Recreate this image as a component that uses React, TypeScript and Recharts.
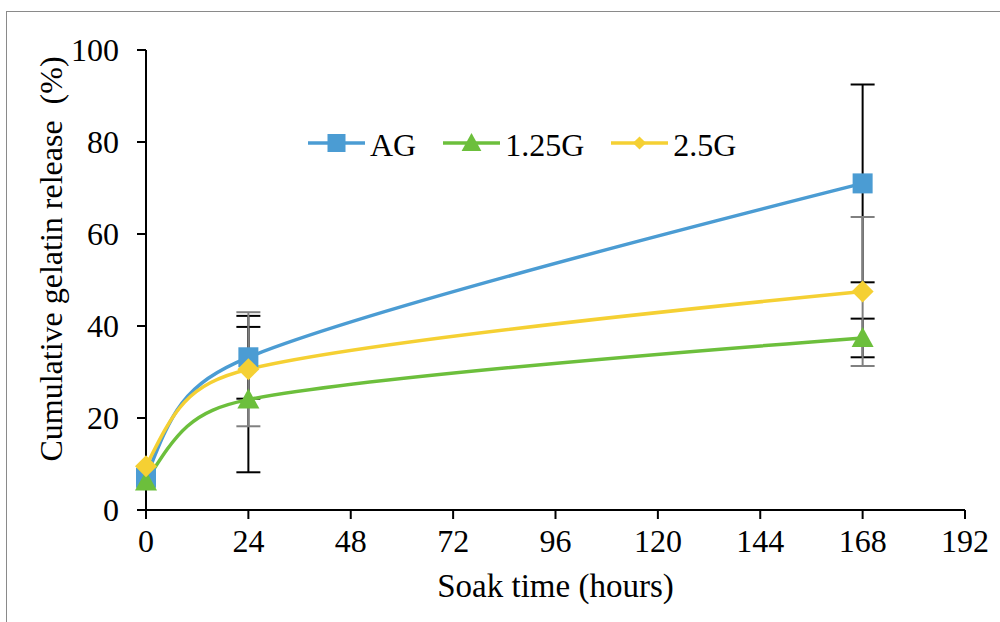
import React from 'react';
import { LineChart, Line, XAxis, YAxis, ErrorBar, Legend, Label } from 'recharts';

// ---- data ----
const hours = [0, 24, 168];
const agValues = [7.0, 33.2, 71.0];
const agErrors: (number | null)[] = [null, 9.0, 21.5];
const g125Values = [6.2, 24.0, 37.4];
const g125Errors: (number | null)[] = [null, 15.8, 4.2];
const g25Values = [9.5, 30.6, 47.5];
const g25Errors: (number | null)[] = [null, 12.4, 16.2];

const xTicks = [0, 24, 48, 72, 96, 120, 144, 168, 192];
const yTicks = [0, 20, 40, 60, 80, 100];

const xTitle = 'Soak time (hours)';
const yTitle = 'Cumulative gelatin release  (%)';

const FONT = '"Liberation Serif", "Times New Roman", serif';

type Shape = 'square' | 'triangle' | 'diamond';

const series = [
  { key: 'AG', name: 'AG', color: '#4b9cd3', shape: 'square' as Shape, errKey: 'AGerr', errColor: '#000000' },
  { key: 'G125', name: '1.25G', color: '#6cbf3c', shape: 'triangle' as Shape, errKey: 'G125err', errColor: '#000000' },
  { key: 'G25', name: '2.5G', color: '#f5d033', shape: 'diamond' as Shape, errKey: 'G25err', errColor: '#808080' },
];

const data = hours.map((h, i) => ({
  t: h,
  AG: agValues[i],
  AGerr: agErrors[i],
  G125: g125Values[i],
  G125err: g125Errors[i],
  G25: g25Values[i],
  G25err: g25Errors[i],
}));

// Spreadsheet-style smoothed line: Catmull-Rom tangents, with control lengths
// limited by the adjacent segment length; end tangents aim at the neighbour control.
function smoothCurve(context: any) {
  let pts: [number, number][] = [];
  const dist = (a: [number, number], b: [number, number]) => Math.hypot(b[0] - a[0], b[1] - a[1]);
  return {
    areaStart() {},
    areaEnd() {},
    lineStart() {
      pts = [];
    },
    lineEnd() {
      const n = pts.length;
      if (!n) return;
      context.moveTo(pts[0][0], pts[0][1]);
      if (n === 1) return;
      if (n === 2) {
        context.lineTo(pts[1][0], pts[1][1]);
        return;
      }
      // interior controls
      const back: ([number, number] | null)[] = new Array(n).fill(null);
      const fwd: ([number, number] | null)[] = new Array(n).fill(null);
      const backLen: number[] = new Array(n).fill(0);
      const fwdLen: number[] = new Array(n).fill(0);
      for (let i = 1; i < n - 1; i++) {
        const tx = pts[i + 1][0] - pts[i - 1][0];
        const ty = pts[i + 1][1] - pts[i - 1][1];
        const tl = Math.hypot(tx, ty) || 1;
        const ux = tx / tl;
        const uy = ty / tl;
        const lb = Math.min(tl / 6, 0.45 * dist(pts[i - 1], pts[i]));
        const lf = Math.min(tl / 6, 0.45 * dist(pts[i], pts[i + 1]));
        back[i] = [pts[i][0] - ux * lb, pts[i][1] - uy * lb];
        fwd[i] = [pts[i][0] + ux * lf, pts[i][1] + uy * lf];
        backLen[i] = lb;
        fwdLen[i] = lf;
      }
      // end controls
      {
        const a = back[1] as [number, number];
        const p = pts[0];
        const dl = dist(p, a) || 1;
        const L = backLen[1];
        fwd[0] = [p[0] + ((a[0] - p[0]) / dl) * L, p[1] + ((a[1] - p[1]) / dl) * L];
      }
      {
        const a = fwd[n - 2] as [number, number];
        const p = pts[n - 1];
        const dl = dist(p, a) || 1;
        const L = fwdLen[n - 2];
        back[n - 1] = [p[0] + ((a[0] - p[0]) / dl) * L, p[1] + ((a[1] - p[1]) / dl) * L];
      }
      for (let i = 0; i < n - 1; i++) {
        const c1 = fwd[i] as [number, number];
        const c2 = back[i + 1] as [number, number];
        context.bezierCurveTo(c1[0], c1[1], c2[0], c2[1], pts[i + 1][0], pts[i + 1][1]);
      }
    },
    point(x: number, y: number) {
      pts.push([+x, +y]);
    },
  };
}

function MarkerShape({ cx, cy, shape, color, size }: { cx: number; cy: number; shape: Shape; color: string; size: number }) {
  if (shape === 'square') {
    return <rect x={cx - size / 2} y={cy - size / 2} width={size} height={size} fill={color} />;
  }
  if (shape === 'triangle') {
    const w = size * 1.1;
    const h = size;
    return (
      <polygon
        points={`${cx},${cy - h * 0.55} ${cx + w / 2},${cy + h * 0.45} ${cx - w / 2},${cy + h * 0.45}`}
        fill={color}
      />
    );
  }
  const r = size * 0.55;
  return <polygon points={`${cx},${cy - r} ${cx + r},${cy} ${cx},${cy + r} ${cx - r},${cy}`} fill={color} />;
}

function makeDot(shape: Shape, color: string, size: number) {
  return (props: any) => {
    const { cx, cy, index } = props;
    if (cx == null || cy == null) return <g key={`d-${index}`} />;
    return (
      <g key={`d-${shape}-${index}`}>
        <MarkerShape cx={cx} cy={cy} shape={shape} color={color} size={size} />
      </g>
    );
  };
}

function LegendContent() {
  return (
    <div style={{ display: 'flex', alignItems: 'center', fontFamily: FONT, fontSize: 32, lineHeight: '32px', color: '#000', whiteSpace: 'nowrap' }}>
      {series.map((s, i) => (
        <div key={s.key} style={{ display: 'flex', alignItems: 'center', marginRight: i < series.length - 1 ? 27 : 0 }}>
          <svg width={57} height={24} style={{ display: 'block' }}>
            <line x1={0} y1={10} x2={57} y2={10} stroke={s.color} strokeWidth={3.5} />
            <MarkerShape cx={28.5} cy={10} shape={s.shape} color={s.color} size={s.shape === 'diamond' ? 12 : 18} />
          </svg>
          <span style={{ marginLeft: 5 }}>{s.name}</span>
        </div>
      ))}
    </div>
  );
}

const XTitle = (props: any) => {
  const vb = props.viewBox || { x: 146, y: 510, width: 819, height: 30 };
  return (
    <text x={vb.x + vb.width / 2} y={vb.y + 87} textAnchor="middle" fontFamily={FONT} fontSize={33} fill="#000">
      {xTitle}
    </text>
  );
};

const YTitle = (props: any) => {
  const vb = props.viewBox || { x: 86, y: 50, width: 60, height: 460 };
  const x = vb.x - 24;
  const y = vb.y + vb.height / 2 - 21;
  return (
    <text
      x={x}
      y={y}
      transform={`rotate(-90 ${x} ${y})`}
      textAnchor="middle"
      fontFamily={FONT}
      fontSize={32}
      fill="#000"
      xmlSpace="preserve"
      style={{ whiteSpace: 'pre' }}
    >
      {yTitle}
    </text>
  );
};

export default function App() {
  return (
    <div style={{ position: 'absolute', left: 0, top: 0, width: 1000, height: 622, background: '#fff', overflow: 'hidden' }}>
      <div
        style={{
          position: 'absolute',
          left: 6,
          top: 11,
          width: 1000,
          height: 700,
          borderTop: '1.5px solid #8a8a8a',
          borderLeft: '1.5px solid #8a8a8a',
        }}
      />
      <div style={{ position: 'absolute', left: 0, top: 0 }}>
        <LineChart width={1000} height={622} data={data} margin={{ top: 50, right: 35, bottom: 82, left: 86 }}>
          <XAxis
            dataKey="t"
            type="number"
            domain={[0, 192]}
            ticks={xTicks}
            interval={0}
            height={30}
            axisLine={{ stroke: '#000', strokeWidth: 2 }}
            tickLine={{ stroke: '#000', strokeWidth: 2 }}
            tickSize={9}
            tickMargin={10}
            tick={{ fill: '#000', fontFamily: FONT, fontSize: 32 }}
          >
            <Label content={<XTitle />} />
          </XAxis>
          <YAxis
            type="number"
            domain={[0, 100]}
            ticks={yTicks}
            interval={0}
            width={60}
            allowDataOverflow
            axisLine={{ stroke: '#000', strokeWidth: 2 }}
            tickLine={{ stroke: '#000', strokeWidth: 2 }}
            tickSize={9}
            tickMargin={18}
            tick={{ fill: '#000', fontFamily: FONT, fontSize: 32 }}
          >
            <Label content={<YTitle />} />
          </YAxis>
          <Legend
            layout="vertical"
            align="center"
            verticalAlign="middle"
            content={<LegendContent />}
            wrapperStyle={{ top: 129, left: 308, width: 'auto' }}
          />
          {series.map((s) => (
            <Line
              key={s.key}
              dataKey={s.key}
              name={s.name}
              type={smoothCurve as any}
              stroke={s.color}
              strokeWidth={3.5}
              dot={makeDot(s.shape, s.color, 20)}
              activeDot={false}
              isAnimationActive={false}
            >
              <ErrorBar dataKey={s.errKey} direction="y" width={12} stroke={s.errColor} strokeWidth={2} isAnimationActive={false} />
            </Line>
          ))}
        </LineChart>
      </div>
    </div>
  );
}
